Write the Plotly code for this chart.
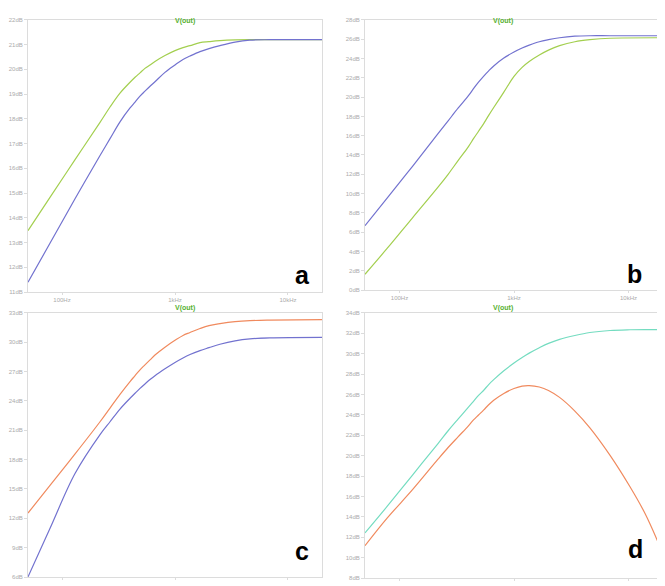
import plotly.graph_objects as go

# ---------------- data ----------------
freq_ac = [50, 78, 130, 217, 266, 326, 400, 443, 490, 542, 601, 665, 815, 1000, 1177, 1358, 1664,
           2000, 2500, 3400, 4600, 6900, 20000]
a_green = [13.48, 14.82, 16.34, 17.86, 18.48, 19.04, 19.48, 19.68, 19.86, 20.04, 20.18, 20.32, 20.56,
           20.76, 20.88, 20.96, 21.08, 21.12, 21.16, 21.19, 21.2, 21.2, 21.2]
a_blue = [11.4, 12.96, 14.76, 16.52, 17.2, 17.88, 18.44, 18.68, 18.92, 19.12, 19.32, 19.5, 19.88,
          20.18, 20.4, 20.54, 20.72, 20.84, 20.96, 21.1, 21.18, 21.2, 21.2]
c_orange = [12.54, 15.35, 18.56, 21.87, 23.27, 24.67, 25.98, 26.58, 27.18, 27.68, 28.19, 28.69, 29.49,
            30.19, 30.69, 30.99, 31.4, 31.7, 31.9, 32.1, 32.2, 32.25, 32.3]
c_purple = [6.02, 10.93, 16.55, 20.56, 21.87, 23.17, 24.27, 24.78, 25.28, 25.73, 26.18, 26.58, 27.28,
            27.93, 28.39, 28.74, 29.14, 29.44, 29.79, 30.14, 30.34, 30.44, 30.49]

freq_b = [50, 78, 130, 217, 266, 326, 400, 443, 490, 542, 601, 665, 815, 1000, 1177, 1358, 1664,
          2000, 2500, 3400, 4600, 6900, 20000]
b_purple = [6.67, 9.54, 12.82, 16.21, 17.54, 18.87, 20.15, 20.87, 21.54, 22.15, 22.72, 23.23, 24.05,
            24.67, 25.08, 25.38, 25.74, 25.95, 26.15, 26.31, 26.36, 26.36, 26.36]
b_green = [1.64, 4.31, 7.49, 10.67, 12.0, 13.44, 14.87, 15.69, 16.46, 17.23, 18.1, 18.92, 20.51,
           22.15, 23.08, 23.69, 24.36, 24.87, 25.33, 25.74, 25.95, 26.1, 26.15]

freq_d = [50, 78, 130, 217, 266, 326, 400, 443, 490, 542, 601, 665, 815, 1000, 1177, 1358, 1664,
          2000, 2500, 3400, 4600, 6900, 10300, 13900, 20000]
d_teal = [12.42, 15.02, 18.1, 21.19, 22.44, 23.6, 24.75, 25.33, 25.91, 26.39, 26.97, 27.45, 28.32,
          29.09, 29.62, 30.05, 30.58, 31.01, 31.4, 31.78, 32.07, 32.27, 32.34, 32.36, 32.36]
d_orange = [11.17, 13.87, 16.66, 19.65, 20.8, 21.86, 22.92, 23.5, 23.98, 24.46, 24.99, 25.43, 26.1,
            26.58, 26.82, 26.87, 26.73, 26.39, 25.71, 24.37, 22.73, 20.03, 16.95, 14.35, 10.4]

x_tickvals = [100, 1000, 10000]
x_ticktext = ["100Hz", "1kHz", "10kHz"]

a_ticks = list(range(11, 23))
b_ticks = list(range(0, 29, 2))
c_ticks = list(range(6, 34, 3))
d_ticks = list(range(8, 35, 2))

panel_letters = ["a", "b", "c", "d"]
title_text = "V(out)"

# ---------------- colours ----------------
GREEN = "#a3cf4f"
BLUE = "#7272cf"
ORANGE = "#f08a5e"
TEAL = "#74dcc0"
AXIS = "#dcdcdc"
TICKF = dict(size=6, color="#ababab", family="Liberation Sans, Arial")

fig = go.Figure()

def add(x, y, color, xa, ya):
    fig.add_trace(go.Scatter(x=x, y=y, mode="lines",
                             line=dict(color=color, width=1.2, shape="spline", smoothing=1.0),
                             xaxis=xa, yaxis=ya, showlegend=False, hoverinfo="skip"))

add(freq_ac, a_green, GREEN, "x", "y")
add(freq_ac, a_blue, BLUE, "x", "y")
add(freq_b, b_purple, BLUE, "x2", "y2")
add(freq_b, b_green, GREEN, "x2", "y2")
add(freq_ac, c_orange, ORANGE, "x3", "y3")
add(freq_ac, c_purple, BLUE, "x3", "y3")
add(freq_d, d_teal, TEAL, "x4", "y4")
add(freq_d, d_orange, ORANGE, "x4", "y4")

# page body has an 8px margin, so the figure is drawn 8px smaller and offset
OFF = 8
W, H = 665 - OFF, 586 - OFF

def px(x):
    return (x - OFF) / W

def py(y):
    return 1 - (y - OFF) / H

xl = [px(28), px(322)]
xr = [px(365), px(663)]

def xax(dom, anchor, show):
    return dict(domain=dom, anchor=anchor, type="log", range=[1.699, 4.301],
                tickvals=x_tickvals, ticktext=x_ticktext, showticklabels=show,
                showgrid=False, zeroline=False, showline=True, linecolor=AXIS, linewidth=1,
                mirror=True, ticks="outside", ticklen=2, tickcolor=AXIS, tickfont=TICKF)

def yax(dom, anchor, rng, ticks):
    return dict(domain=dom, anchor=anchor, range=rng, tickvals=ticks,
                ticktext=[f"{t}dB" for t in ticks], showgrid=False, zeroline=False,
                showline=True, linecolor=AXIS, linewidth=1, mirror=True,
                ticks="outside", ticklen=3, tickcolor=AXIS, tickfont=TICKF)

fig.update_layout(
    width=W, height=H, margin=dict(l=0, r=0, t=0, b=0),
    paper_bgcolor="white", plot_bgcolor="white",
    xaxis=xax(xl, "y", True),
    yaxis=yax([py(292), py(17)], "x", [11, 22], a_ticks),
    xaxis2=xax(xr, "y2", True),
    yaxis2=yax([py(290), py(17)], "x2", [0, 28], b_ticks),
    xaxis3=xax(xl, "y3", False),
    yaxis3=yax([py(580), py(313)], "x3", [6, 33], c_ticks),
    xaxis4=xax(xr, "y4", False),
    yaxis4=yax([py(581), py(313)], "x4", [8, 34], d_ticks),
)

# titles
for (tx, ty) in [(173, 12), (515, 12), (173, 308), (515, 308)]:
    fig.add_annotation(x=px(tx), y=py(ty), xref="paper", yref="paper", text=f"<b>{title_text}</b>",
                       showarrow=False, font=dict(size=7, color="#55b030", family="Liberation Sans, Arial"))

# panel letters
for letter, (lx, ly) in zip(panel_letters, [(302, 275), (644, 274), (302, 570), (645, 568)]):
    fig.add_annotation(x=px(lx), y=py(ly), xref="paper", yref="paper", text=f"<b>{letter}</b>",
                       showarrow=False, font=dict(size=25, color="black", family="Liberation Sans, Arial"))

fig.write_html("out.html")
